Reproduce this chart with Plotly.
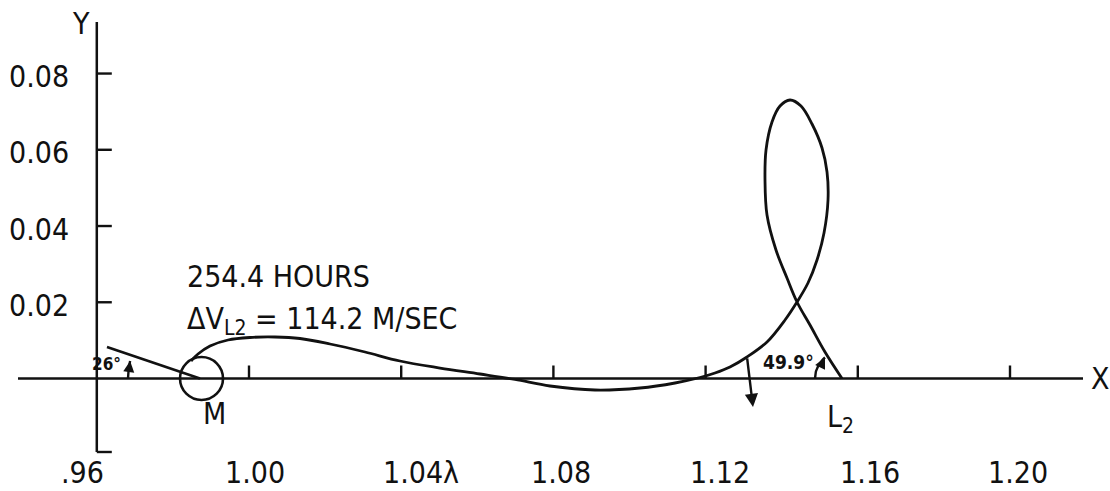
import numpy as np
import plotly.graph_objects as go

# Transfer trajectory in the rotating Earth-Moon frame (distance units)
traj_x = [0.98476, 0.98660, 0.98975, 0.99448, 1.00026, 1.00683, 1.01340, 1.02129,
          1.03049, 1.03968, 1.05020, 1.06071, 1.06991, 1.07911, 1.09093, 1.10276,
          1.11196, 1.11853, 1.12247, 1.12641, 1.13088, 1.13614, 1.14087, 1.14402,
          1.14691, 1.14928, 1.15112, 1.15217, 1.15191, 1.15060, 1.14797, 1.14507,
          1.14218, 1.13955, 1.13745, 1.13588, 1.13561, 1.13614, 1.13850, 1.14139,
          1.14402, 1.14744, 1.15138, 1.15585]
traj_y = [0.00459, 0.00643, 0.00853, 0.01010, 0.01076, 0.01089, 0.01049, 0.00905,
          0.00695, 0.00459, 0.00275, 0.00118, -0.00026, -0.00197, -0.00302, -0.00249,
          -0.00118, 0.00026, 0.00144, 0.00301, 0.00564, 0.00958, 0.01535, 0.02007,
          0.02505, 0.03109, 0.03817, 0.04683, 0.05417, 0.06047, 0.06676, 0.07148,
          0.07306, 0.07148, 0.06729, 0.05994, 0.05207, 0.04289, 0.03371, 0.02636,
          0.02007, 0.01403, 0.00695, 0.0]

# Departure direction line at the Moon
dep_x = [0.96268, 0.98712]
dep_y = [0.00826, 0.0]

# Velocity-change arrow near the x axis crossing
dv_tail = (1.13088, 0.00564)
dv_head = (1.13246, -0.00748)

MOON_X = 0.98752
MOON_R = 0.00565
L2_X = 1.15585

x_ticks = [1.00, 1.04, 1.08, 1.12, 1.16, 1.20]
x_label_vals = [0.96, 1.00, 1.04, 1.08, 1.12, 1.16, 1.20]
x_tick_labels = [".96", "1.00", "1.04\u03bb", "1.08", "1.12", "1.16", "1.20"]
y_ticks = [0.02, 0.04, 0.06, 0.08]
y_tick_labels = ["0.02", "0.04", "0.06", "0.08"]

hours_text = "254.4 HOURS"
dv_text = "\u0394V<sub>L2</sub> = 114.2 M/SEC"
dep_angle = "26\u00b0"
arr_angle = "49.9\u00b0"

# Page mapping: ~3805 px per unit in x, ~3812 px per unit in y
PX_X = 3805.0
PX_Y = 3812.0
X_RANGE = [0.96 - 96.8 / PX_X, 0.96 + 1013.2 / PX_X]
Y_RANGE = [(378.5 - 491) / PX_Y, 378.5 / PX_Y]

FONT = "DejaVu Sans Condensed, DejaVu Sans, sans-serif"
INK = "#111111"
BIG = 30

fig = go.Figure()

# axes
fig.add_trace(go.Scatter(x=[X_RANGE[0] + 18 / PX_X, X_RANGE[0] + 1083 / PX_X], y=[0, 0],
                         mode="lines", line=dict(color=INK, width=2.5), hoverinfo="skip"))
fig.add_trace(go.Scatter(x=[0.96, 0.96], y=[Y_RANGE[1] - 22 / PX_Y, Y_RANGE[1] - 452 / PX_Y],
                         mode="lines", line=dict(color=INK, width=2.5), hoverinfo="skip"))

# trajectory
fig.add_trace(go.Scatter(x=traj_x, y=traj_y, mode="lines",
                         line=dict(color=INK, width=2.8, shape="spline", smoothing=1.0),
                         hoverinfo="skip"))
fig.add_trace(go.Scatter(x=dep_x, y=dep_y, mode="lines",
                         line=dict(color=INK, width=2.6), hoverinfo="skip"))

# angle arcs
def arc(cx, r_px, a0, a1):
    t = np.radians(np.linspace(a0, a1, 30))
    return cx + r_px / PX_X * np.cos(t), r_px / PX_Y * np.sin(t)

ax1, ay1 = arc(dep_x[1], 72, 180, 166)
fig.add_trace(go.Scatter(x=ax1, y=ay1, mode="lines", line=dict(color=INK, width=2.4),
                         hoverinfo="skip"))
ax2, ay2 = arc(L2_X, 27, 180, 129)
fig.add_trace(go.Scatter(x=ax2, y=ay2, mode="lines", line=dict(color=INK, width=2.4),
                         hoverinfo="skip"))

shapes = []
# Moon
shapes.append(dict(type="circle", xref="x", yref="y",
                   x0=MOON_X - MOON_R, x1=MOON_X + MOON_R,
                   y0=-MOON_R * PX_X / PX_Y, y1=MOON_R * PX_X / PX_Y,
                   line=dict(color=INK, width=2.6)))
# x ticks (pointing up)
for xv in x_ticks:
    shapes.append(dict(type="line", xref="x", yref="y", ysizemode="pixel", yanchor=0,
                       x0=xv, x1=xv, y0=0, y1=13, line=dict(color=INK, width=2.4)))
# y ticks (pointing right)
for yv in y_ticks:
    shapes.append(dict(type="line", xref="x", yref="y", xsizemode="pixel", xanchor=0.96,
                       x0=0, x1=15, y0=yv, y1=yv, line=dict(color=INK, width=2.4)))
# foot of the y axis
shapes.append(dict(type="line", xref="x", yref="y", xsizemode="pixel", xanchor=0.96,
                   x0=0, x1=15, y0=Y_RANGE[1] - 452 / PX_Y, y1=Y_RANGE[1] - 452 / PX_Y,
                   line=dict(color=INK, width=2.4)))

ann = []
txt = dict(showarrow=False, font=dict(family=FONT, size=BIG, color=INK))

# x tick labels
x_label_shift = [-14, 6, 20, 8, 14, 12, 8]
for v, lab, sh in zip(x_label_vals, x_tick_labels, x_label_shift):
    ann.append(dict(x=v, y=Y_RANGE[1] - 472 / PX_Y, text=lab, xanchor="center",
                    yanchor="middle", xshift=sh, **txt))
# y tick labels
for v, lab in zip(y_ticks, y_tick_labels):
    ann.append(dict(x=0.96, y=v, text=lab, xanchor="right", yanchor="middle",
                    xshift=-26, yshift=-3, **txt))

ann.append(dict(x=0.96, y=Y_RANGE[1] - 23 / PX_Y, text="Y", xanchor="center",
                yanchor="middle", xshift=-16, **txt))
ann.append(dict(x=X_RANGE[0] + 1100 / PX_X, y=0, text="X", xanchor="center",
                yanchor="middle", **txt))

# trajectory notes
ann.append(dict(x=0.98318, y=0.02676, text=hours_text, xanchor="left", yanchor="middle", **txt))
ann.append(dict(x=0.98318, y=0.01705, text=dv_text, xanchor="left", yanchor="top",
                yshift=15, **txt))

ann.append(dict(x=0.99106, y=-0.00905, text="M", xanchor="center", yanchor="middle", **txt))
ann.append(dict(x=L2_X, y=-0.0105, text="L<sub>2</sub>", xanchor="center", yanchor="middle",
                xshift=-2, **txt))

ann.append(dict(x=0.96242, y=0.0038, text="<b>" + dep_angle + "</b>", xanchor="center",
                yanchor="middle", showarrow=False, font=dict(family=FONT, size=17, color=INK)))
ann.append(dict(x=1.14166, y=0.00433, text="<b>" + arr_angle + "</b>", xanchor="center",
                yanchor="middle", showarrow=False, font=dict(family=FONT, size=19, color=INK)))

# arrowheads
ann.append(dict(x=dv_head[0], y=dv_head[1], ax=dv_tail[0], ay=dv_tail[1],
                axref="x", ayref="y", xref="x", yref="y", text="", showarrow=True,
                arrowhead=2, arrowsize=1.1, arrowwidth=2.4, arrowcolor=INK))
ann.append(dict(x=ax1[-1], y=ay1[-1], ax=-1, ay=8, text="", showarrow=True,
                arrowhead=2, arrowsize=1.0, arrowwidth=2.2, arrowcolor=INK))
ann.append(dict(x=ax2[-1], y=ay2[-1], ax=-3, ay=6, text="", showarrow=True,
                arrowhead=2, arrowsize=1.0, arrowwidth=2.2, arrowcolor=INK))

fig.update_layout(
    width=1110, height=491, autosize=False,
    margin=dict(l=0, r=0, t=0, b=0),
    paper_bgcolor="white", plot_bgcolor="white",
    showlegend=False,
    xaxis=dict(range=X_RANGE, visible=False, fixedrange=True),
    yaxis=dict(range=Y_RANGE, visible=False, fixedrange=True),
    shapes=shapes, annotations=ann,
)

fig.write_html("out.html")
